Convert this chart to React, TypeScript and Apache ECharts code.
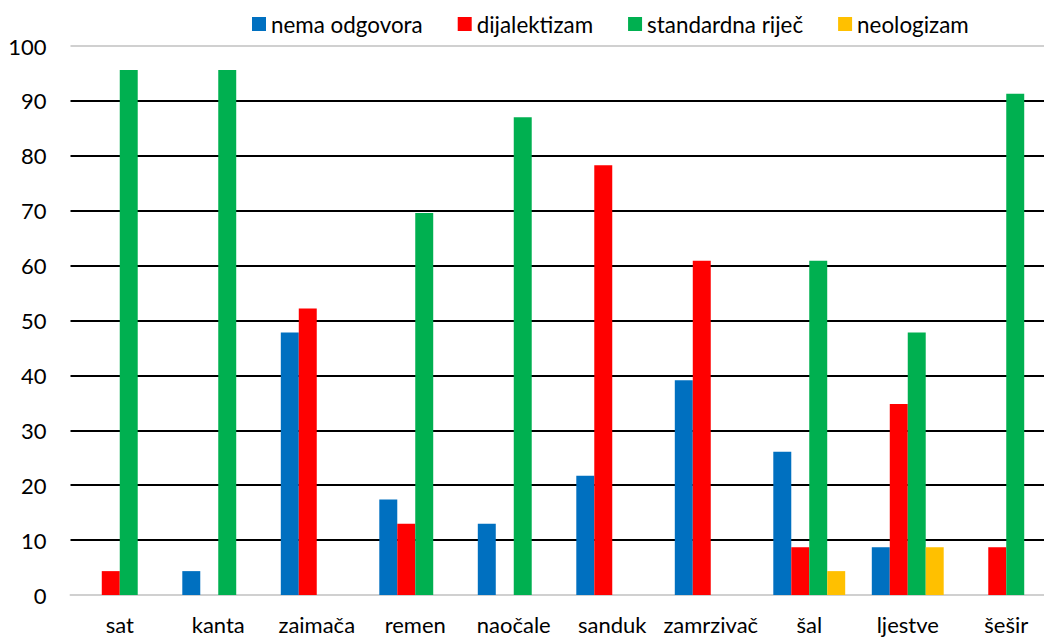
import React, { useEffect, useRef } from "react";
import * as echarts from "echarts";

const categories = ["sat", "kanta", "zaimača", "remen", "naočale", "sanduk", "zamrzivač", "šal", "ljestve", "šešir"];
const nemaOdgovora = [0, 4.35, 47.8, 17.4, 13.0, 21.7, 39.1, 26.1, 8.7, 0];
const dijalektizam = [4.35, 0, 52.2, 13.0, 0, 78.3, 60.9, 8.7, 34.8, 8.7];
const standardna = [95.65, 95.65, 0, 69.6, 87.0, 0, 0, 60.9, 47.8, 91.3];
const neologizam = [0, 0, 0, 0, 0, 0, 0, 4.35, 8.7, 0];
const yTicks = [0, 10, 20, 30, 40, 50, 60, 70, 80, 90, 100];

const FONT = "Lato, 'Open Sans', sans-serif";

export default function App() {
  const ref = useRef<HTMLDivElement>(null);
  useEffect(() => {
    if (!ref.current) return;
    const chart = echarts.init(ref.current, undefined, { renderer: "svg" });
    const gridColors = yTicks.map((t) => (t === 0 || t === 100 ? "#d0d0d0" : "#000000"));
    const mk = (name: string, data: number[], color: string) => ({
      name,
      type: "bar",
      data,
      barGap: "0%",
      barCategoryGap: "27%",
      itemStyle: { color },
    });
    chart.setOption({
      animation: false,
      textStyle: { fontFamily: FONT },
      legend: {
        top: 13,
        left: 252,
        padding: 0,
        itemWidth: 14,
        itemHeight: 14,
        itemGap: 35,
        icon: "rect",
        textStyle: { fontFamily: FONT, fontSize: 22.4, color: "#000" },
        data: ["nema odgovora", "dijalektizam", "standardna riječ", "neologizam"],
      },
      grid: { left: 70.5, top: 46, width: 985, height: 549, containLabel: false },
      xAxis: {
        type: "category",
        data: categories,
        axisLine: { show: true, lineStyle: { color: "#d0d0d0", width: 2 } },
        axisTick: { show: false },
        axisLabel: { interval: 0, fontFamily: FONT, fontSize: 22, color: "#000", margin: 18 },
      },
      yAxis: {
        type: "value",
        min: 0,
        max: 100,
        interval: 10,
        axisLine: { show: false },
        axisTick: { show: false },
        axisLabel: { fontFamily: FONT, fontSize: 22, color: "#000", margin: 24 },
        splitLine: { show: true, lineStyle: { color: gridColors, width: 2 } },
      },
      series: [
        mk("nema odgovora", nemaOdgovora, "#0070C0"),
        mk("dijalektizam", dijalektizam, "#FF0000"),
        mk("standardna riječ", standardna, "#00B050"),
        mk("neologizam", neologizam, "#FFC000"),
      ],
    });
    return () => chart.dispose();
  }, []);
  return (
    <div style={{ position: "absolute", left: 0, top: 0, width: 1044, height: 638, overflow: "hidden" }}>
      <div ref={ref} style={{ width: 1070, height: 638 }} />
    </div>
  );
}
